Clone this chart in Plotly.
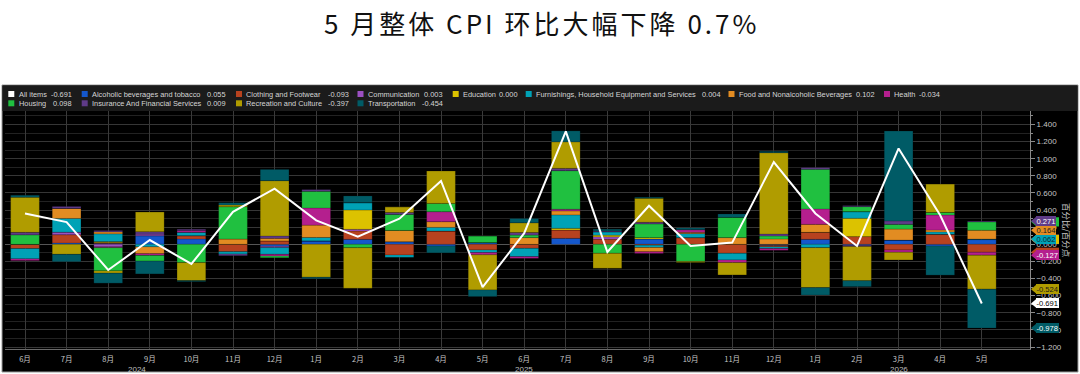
import plotly.graph_objects as go

# ---------------- data ----------------
months = ['6月', '7月', '8月', '9月', '10月', '11月', '12月',
          '1月', '2月', '3月', '4月', '5月', '6月', '7月', '8月', '9月', '10月', '11月', '12月',
          '1月', '2月', '3月', '4月', '5月']
years = ['2024', '2025', '2026']
year_pos = [2.7, 12, 21]

all_items = [0.36, 0.26, -0.30, 0.05, -0.23, 0.38, 0.65, 0.28, 0.09, 0.30, 0.74, -0.50,
             0.13, 1.32, -0.09, 0.45, -0.02, 0.02, 0.96, 0.36, -0.02, 1.12, 0.34, -0.691]

alcohol = [0.0, 0.015, 0.01, 0.10, 0.062, 0.0, -0.023, 0.04, 0.058, 0.03, -0.02, 0.02,
           0.0, 0.07, 0.0, 0.062, 0.0, 0.0, -0.015, 0.058, -0.015, 0.05, -0.02, 0.055]
clothing = [-0.05, 0.097, 0.01, 0.0, 0.039, -0.086, 0.039, 0.0, 0.097, -0.125, 0.155, -0.066,
            -0.047, 0.097, 0.06, -0.01, 0.078, -0.105, -0.015, 0.082, 0.09, -0.066, 0.117, -0.093]
communication = [0.0, 0.03, -0.03, 0.02, 0.0, 0.0, -0.016, 0.0, 0.02, 0.0, 0.0, 0.0,
                 0.0, 0.0, 0.027, 0.0, 0.0, 0.0, 0.0, 0.0, -0.01, 0.0, 0.0, 0.003]
education = [0.0, 0.0, 0.012, 0.0, 0.0, 0.0, 0.0, 0.0, 0.226, 0.0, 0.0, 0.0,
             0.0, 0.02, 0.02, 0.016, 0.0, 0.0, 0.0, 0.0, 0.214, 0.0, 0.0, 0.000]
furnishings = [-0.12, 0.16, 0.09, -0.03, 0.039, -0.027, -0.078, 0.04, 0.086, -0.027, 0.043, -0.03,
               -0.097, 0.156, 0.04, -0.027, 0.047, -0.078, -0.02, -0.039, 0.078, 0.0, 0.027, 0.004]
food = [0.0, 0.117, 0.023, -0.08, 0.0, 0.062, 0.031, 0.144, 0.0, 0.132, 0.066, 0.0,
        0.078, 0.047, 0.0, -0.05, 0.015, 0.078, 0.062, 0.093, 0.0, 0.128, 0.023, 0.102]
health = [-0.02, 0.0, -0.01, -0.02, 0.02, 0.0, -0.02, 0.20, 0.0, 0.0, 0.117, -0.027,
          -0.02, 0.02, 0.0, -0.02, 0.031, -0.031, -0.02, 0.18, 0.0, -0.027, 0.175, -0.034]
housing = [0.11, 0.0, -0.27, -0.066, -0.214, 0.377, -0.02, 0.195, -0.04, 0.187, 0.097, 0.077,
           0.03, 0.45, -0.105, 0.16, -0.20, 0.237, 0.035, 0.463, 0.058, 0.055, 0.031, 0.098]
insurance = [0.03, 0.023, 0.016, 0.027, 0.016, -0.02, 0.027, 0.02, 0.0, 0.023, 0.0, 0.0,
             0.03, 0.027, 0.01, 0.02, 0.0, 0.0, 0.023, 0.02, 0.012, 0.04, 0.0, 0.009]
recreation = [0.41, -0.117, -0.027, 0.23, -0.21, 0.02, 0.646, -0.385, -0.474, 0.066, 0.377, -0.41,
              0.113, 0.31, -0.175, 0.28, -0.012, -0.144, 0.95, -0.467, -0.40, -0.09, 0.33, -0.397]
transport = [0.023, -0.086, -0.117, -0.15, -0.012, 0.027, 0.132, -0.016, 0.078, 0.0, -0.08, -0.078,
             0.05, 0.128, 0.02, 0.012, 0.02, 0.039, 0.016, -0.086, -0.07, 1.05, -0.34, -0.454]

series_names = ['Alcoholic beverages and tobacco', 'Clothing and Footwear', 'Communication',
                'Education', 'Furnishings, Household Equipment and Services',
                'Food and Nonalcoholic Beverages', 'Health', 'Housing',
                'Insurance And Financial Services', 'Recreation and Culture', 'Transportation']
series_values = [alcohol, clothing, communication, education, furnishings, food, health,
                 housing, insurance, recreation, transport]
series_colors = ['#1457cc', '#b7421f', '#9b50c2', '#dcc200', '#00a2b6', '#e28c22',
                 '#b41f8e', '#20c040', '#5f3b88', '#b09c00', '#005b66']
tag_text_colors = ['white', 'white', 'white', '#111', '#0a2a30', '#1a1a1a',
                   'white', '#102010', 'white', '#1a1a1a', 'white']

# ---------------- layout geometry (pixels) ----------------
W, H = 1080, 374
PL, PR, PT, PB = 5, 1030, 111, 349
X0, DX = 25, 41.6          # pixel of first category, spacing
Y0, DY = 244.3, 85.6       # pixel of zero, pixels per unit


def pxx(p):
    return (p - PL) / (PR - PL)


def pxy(p):
    return (PB - p) / (PB - PT)


xr = [(PL - X0) / DX, (PR - X0) / DX]
yr = [-(PB - Y0) / DY, (Y0 - PT) / DY]

idx = list(range(len(months)))
fig = go.Figure()

for name, vals, col in zip(series_names, series_values, series_colors):
    fig.add_trace(go.Bar(x=idx, y=vals, name=name, marker_color=col,
                         marker_line_width=0.5, marker_line_color='rgba(0,0,0,0.35)',
                         width=0.69, showlegend=False))

fig.add_trace(go.Scatter(x=idx, y=all_items, mode='lines', name='All items',
                         line=dict(color='white', width=2), showlegend=False))

shapes = []
annotations = []

# panel background and legend band
shapes.append(dict(type='rect', xref='paper', yref='paper', layer='below',
                   x0=pxx(2), x1=pxx(1078), y0=pxy(372), y1=pxy(85),
                   fillcolor='black', line=dict(color='#9a9a9a', width=1)))
shapes.append(dict(type='rect', xref='paper', yref='paper', layer='below',
                   x0=pxx(2.5), x1=pxx(1077.5), y0=pxy(PT), y1=pxy(85.5),
                   fillcolor='#1b1b1b', line=dict(width=0)))

# title
annotations.append(dict(xref='paper', yref='paper', x=pxx(541), y=pxy(22),
                        xanchor='center', yanchor='middle', showarrow=False,
                        text='<span style="letter-spacing:3px">5 月整体 CPI 环比大幅下降 0.7%</span>',
                        font=dict(family='Noto Sans CJK SC', size=26, color='#111')))

# ---------------- manual legend ----------------
leg_font = dict(family='Liberation Sans', size=7.4, color='#d6d6d6')
row_y = [94, 103.3]
legend_layout = [
    # (row, square_x, value_right_x, name, values, color)
    (0, 8.3, 74, 'All items', all_items, 'white'),
    (0, 81.7, 228, series_names[0], alcohol, series_colors[0]),
    (0, 236, 351, series_names[1], clothing, series_colors[1]),
    (0, 357.5, 445, series_names[2], communication, series_colors[2]),
    (0, 452.7, 519.5, series_names[3], education, series_colors[3]),
    (0, 525.7, 722.5, series_names[4], furnishings, series_colors[4]),
    (0, 728.5, 876.7, series_names[5], food, series_colors[5]),
    (0, 884, 941.7, series_names[6], health, series_colors[6]),
    (1, 8.3, 74, series_names[7], housing, series_colors[7]),
    (1, 81.7, 228, series_names[8], insurance, series_colors[8]),
    (1, 236, 351, series_names[9], recreation, series_colors[9]),
    (1, 357.5, 445, series_names[10], transport, series_colors[10]),
]
for row, sx, vx, name, vals, col in legend_layout:
    yc = row_y[row]
    shapes.append(dict(type='rect', xref='paper', yref='paper',
                       x0=pxx(sx), x1=pxx(sx + 6), y0=pxy(yc + 3), y1=pxy(yc - 3),
                       fillcolor=col, line=dict(width=0)))
    annotations.append(dict(xref='paper', yref='paper', x=pxx(sx + 8.2), y=pxy(yc),
                            xanchor='left', yanchor='middle', showarrow=False,
                            text=name, font=leg_font))
    annotations.append(dict(xref='paper', yref='paper', x=pxx(vx), y=pxy(yc),
                            xanchor='right', yanchor='middle', showarrow=False,
                            text=f'{vals[-1]:.3f}', font=leg_font))

# ---------------- year labels ----------------
for yl, yp in zip(years, year_pos):
    annotations.append(dict(xref='x', yref='paper', x=yp, y=pxy(369.5),
                            xanchor='center', yanchor='middle', showarrow=False,
                            text=yl, font=dict(family='Liberation Sans', size=8, color='#bdbdbd')))

# right axis title
annotations.append(dict(xref='paper', yref='paper', x=pxx(1067), y=pxy(230),
                        xanchor='center', yanchor='middle', showarrow=False, textangle=90,
                        text='百分比/百分点',
                        font=dict(family='Noto Sans CJK SC', size=8.5, color='#c8c8c8')))

# ---------------- value tags at the right ----------------
tags = []
pos, neg = 0.0, 0.0
for name, vals, col, tcol in zip(series_names, series_values, series_colors, tag_text_colors):
    v = vals[-1]
    if v >= 0:
        pos += v
        tags.append((pos, col, tcol))
    else:
        neg += v
        tags.append((neg, col, tcol))
tags.insert(0, (all_items[-1], 'white', '#000'))

half = 4.6 / DY
for i, (yv, col, tcol) in enumerate(tags):
    covered = any(abs(yv - t[0]) * DY < 4 for t in tags[i + 1:])
    shapes.append(dict(type='path', xref='paper', yref='y',
                       path=f'M {pxx(1031)} {yv} L {pxx(1036.5)} {yv + half} L {pxx(1036.5)} {yv - half} Z',
                       fillcolor=col, line=dict(width=0)))
    if covered:
        # tag hidden behind a later one: draw only its box
        shapes.append(dict(type='rect', xref='paper', yref='y',
                           x0=pxx(1036), x1=pxx(1059), y0=yv - half, y1=yv + half,
                           fillcolor=col, line=dict(width=0)))
    else:
        annotations.append(dict(xref='paper', yref='y', x=pxx(1036), y=yv,
                                xanchor='left', yanchor='middle', showarrow=False,
                                text=f'{yv:.3f}', bgcolor=col, borderpad=0.5, borderwidth=0,
                                font=dict(family='Liberation Sans', size=7.6, color=tcol)))

fig.update_layout(
    width=W, height=H,
    margin=dict(l=PL, r=W - PR, t=PT, b=H - PB, pad=0),
    paper_bgcolor='white', plot_bgcolor='black',
    barmode='relative', bargap=0.31,
    shapes=shapes, annotations=annotations,
    xaxis=dict(range=xr, tickmode='array', tickvals=idx, ticktext=months,
               showgrid=True, gridcolor='#3a3a3a', gridwidth=1,
               showline=True, linecolor='#6a6a6a', linewidth=1,
               ticks='', ticklabelstandoff=3, zeroline=False,
               tickfont=dict(family='Noto Sans CJK SC', size=7.5, color='#c8c8c8')),
    yaxis=dict(range=yr, side='right', dtick=0.2, tick0=0, tickformat='.3f',
               showgrid=True, gridcolor='#363636', gridwidth=1,
               zeroline=True, zerolinecolor='#555555', zerolinewidth=1,
               showline=True, linecolor='#8a8a8a', linewidth=1,
               ticks='outside', ticklen=4, tickcolor='#8a8a8a',
               minor=dict(dtick=0.1, ticks='outside', ticklen=2, tickcolor='#8a8a8a',
                          showgrid=True, gridcolor='#222222'),
               tickfont=dict(family='Liberation Sans', size=8, color='#c4c4c4')),
    font=dict(family='Liberation Sans'),
)

fig.write_html('out.html')
